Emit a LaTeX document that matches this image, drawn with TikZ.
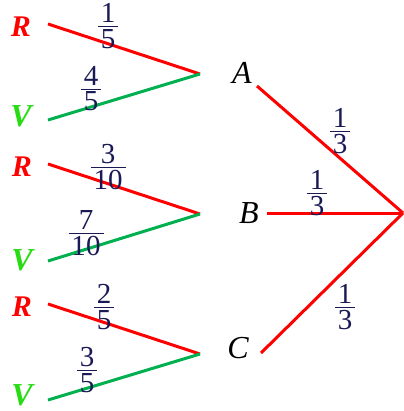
\documentclass[tikz,border=0pt]{standalone}
\usepackage{fontspec}
\setmainfont{Liberation Serif}
\definecolor{navy}{RGB}{25,25,85}
\definecolor{lred}{RGB}{255,0,0}
\definecolor{lgreen}{RGB}{0,176,80}
\definecolor{vgreen}{RGB}{40,220,20}
\newdimen\frw
\newcommand{\fr}[2]{\setbox0\hbox{#1}\setbox2\hbox{#2}%
  \frw=\ifdim\wd0>\wd2 \wd0\else\wd2\fi\advance\frw by 3pt%
  \vbox{\offinterlineskip\halign{\hfil##\hfil\cr\box0\cr\noalign{\kern1.5pt}%
  \vrule width\frw height0.6pt depth0pt\cr\noalign{\kern1pt}\box2\cr}}}
\begin{document}
\begin{tikzpicture}[x=0.5pt,y=-0.5pt,
  redline/.style={draw=lred,line width=1.5pt},
  greenline/.style={draw=lgreen,line width=1.5pt},
  prob/.style={inner sep=0pt,text=navy,font=\fontsize{14.5}{16}\selectfont},
  rlab/.style={inner sep=0pt,text=lred,font=\fontsize{15}{17}\selectfont\bfseries\itshape},
  vlab/.style={inner sep=0pt,text=vgreen,font=\fontsize{16}{18}\selectfont\bfseries\itshape},
  letter/.style={inner sep=0pt,font=\fontsize{16}{18}\selectfont\itshape}]
\useasboundingbox (0,0) rectangle (403,411);
% right part
\coordinate (root) at (403,213);
\node[letter] (A) at (242,73) {A};
\node[letter] (B) at (249,213) {B};
\node[letter] (C) at (238,348) {C};
\coordinate (a0) at (257,86);
\coordinate (b0) at (267,213);
\coordinate (c0) at (261,353);
\draw[redline] (a0) -- (root);
\draw[redline] (b0) -- (root);
\draw[redline] (c0) -- (root);
\node[prob] (pA) at (340,131) {\fr{1}{3}};
\node[prob] (pB) at (317,193) {\fr{1}{3}};
\node[prob] (pC) at (345,307) {\fr{1}{3}};
% group A
\coordinate (va) at (200,74);
\coordinate (ra) at (48,24);
\coordinate (ga) at (48,120);
\node[rlab] (RA) at (21,27) {R};
\node[vlab] (VA) at (21,116) {V};
\draw[redline] (ra) -- (va);
\draw[greenline] (ga) -- (va);
\node[prob] (pRA) at (108,26) {\fr{1}{5}};
\node[prob] (pVA) at (91,89) {\fr{4}{5}};
% group B
\coordinate (vb) at (200,214);
\coordinate (rb) at (48,164);
\coordinate (gb) at (48,261);
\node[rlab] (RB) at (22,167) {R};
\node[vlab] (VB) at (22,260) {V};
\draw[redline] (rb) -- (vb);
\draw[greenline] (gb) -- (vb);
\node[prob] (pRB) at (108,167) {\fr{3}{10}};
\node[prob] (pVB) at (86,233) {\fr{7}{10}};
% group C
\coordinate (vc) at (200,354);
\coordinate (rc) at (48,304);
\coordinate (gc) at (48,400);
\node[rlab] (RC) at (22,307) {R};
\node[vlab] (VC) at (22,395) {V};
\draw[redline] (rc) -- (vc);
\draw[greenline] (gc) -- (vc);
\node[prob] (pRC) at (104,307) {\fr{2}{5}};
\node[prob] (pVC) at (87,370) {\fr{3}{5}};
\end{tikzpicture}
\end{document}
